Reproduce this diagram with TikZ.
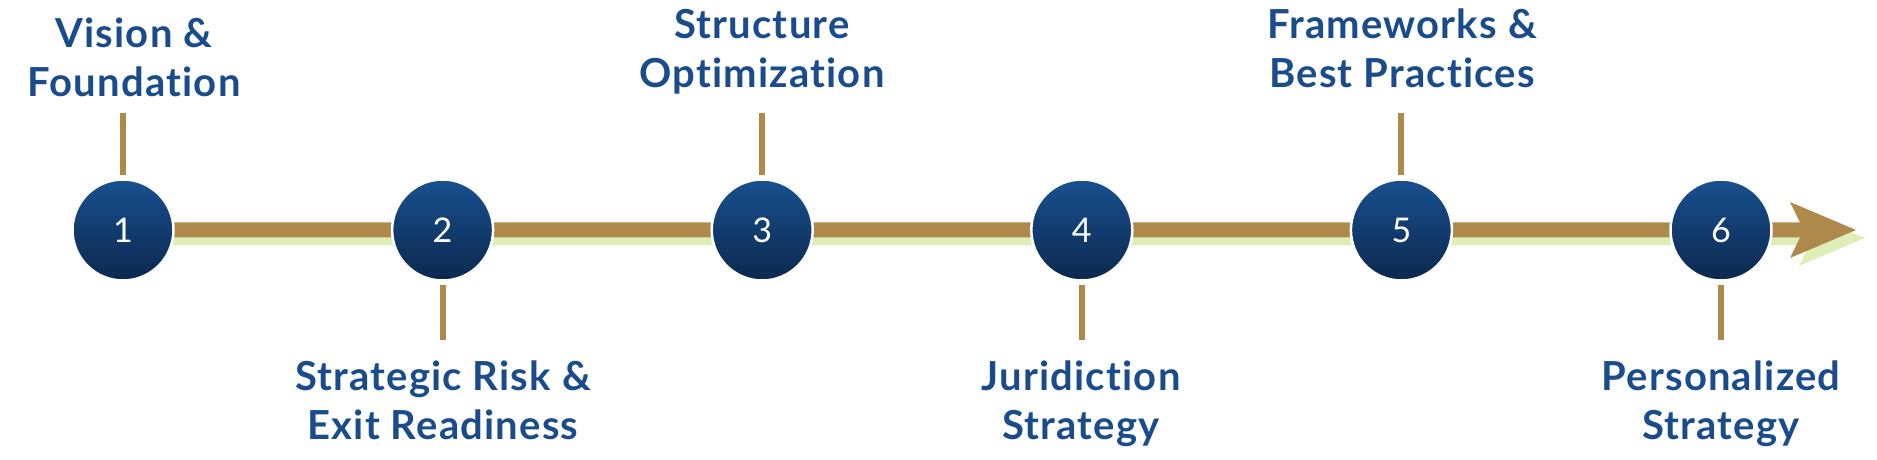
\documentclass[tikz,border=0pt]{standalone}
\usepackage{fontspec}
\setmainfont{Lato}[RawFeature=-liga]
\newfontfamily\labelfont{Lato}[RawFeature=-liga,LetterSpace=3]
\usetikzlibrary{positioning}

\definecolor{labelblue}{RGB}{26,76,140}
\definecolor{circtop}{RGB}{24,80,143}
\definecolor{circbot}{RGB}{12,40,78}
\definecolor{barbrown}{RGB}{173,138,76}
\definecolor{shadowgreen}{RGB}{223,237,184}

\newcommand{\timelinepath}{(123,222.5) -- (1800,222.5) -- (1790,202) -- (1856,230)
    -- (1790,258) -- (1800,237.5) -- (123,237.5) -- cycle}

\begin{document}
\begin{tikzpicture}[
                x=1pt,y=1pt,
                stepcircle/.style={circle,minimum size=101pt,inner sep=0pt,
                    top color=circtop,bottom color=circbot,draw=white,line width=2.5pt,
                    text=white,font=\fontsize{34}{34}\selectfont},
                steplabel/.style={align=center,anchor=base,text=labelblue,
                    font=\labelfont\fontsize{40}{49}\selectfont\bfseries},
                tick/.style={barbrown,line width=6pt}
            ]
                \useasboundingbox (0,0) rectangle (1877,460);
                % arrow and its shadow
                \fill[shadowgreen,shift={(9,-8)}] \timelinepath;
                \fill[barbrown] \timelinepath;
                % steps
                \foreach \i in {1,...,6}
                    \node[stepcircle] (s\i) at ({123+319.6*(\i-1)},230) {\i};
                % ticks
                \foreach \i in {1,3,5}
                    \draw[tick] ([yshift=3pt]s\i.north) -- ++(0,62);
                \foreach \i in {2,4,6}
                    \draw[tick] ([yshift=-3pt]s\i.south) -- ++(0,-55);
                % labels (base = last line)
                \node[steplabel] (l1) at (134,363) {Vision \&\\Foundation};
                \node[steplabel] (l2) at (443,20)  {Strategic Risk \&\\Exit Readiness};
                \node[steplabel] (l3) at (762,372) {Structure\\Optimization};
                \node[steplabel] (l4) at (1081,20) {Juridiction\\Strategy};
                \node[steplabel] (l5) at (1402,372) {Frameworks \&\\Best Practices};
                \node[steplabel] (l6) at (1721,20) {Personalized\\Strategy};
            \end{tikzpicture}
\end{document}
